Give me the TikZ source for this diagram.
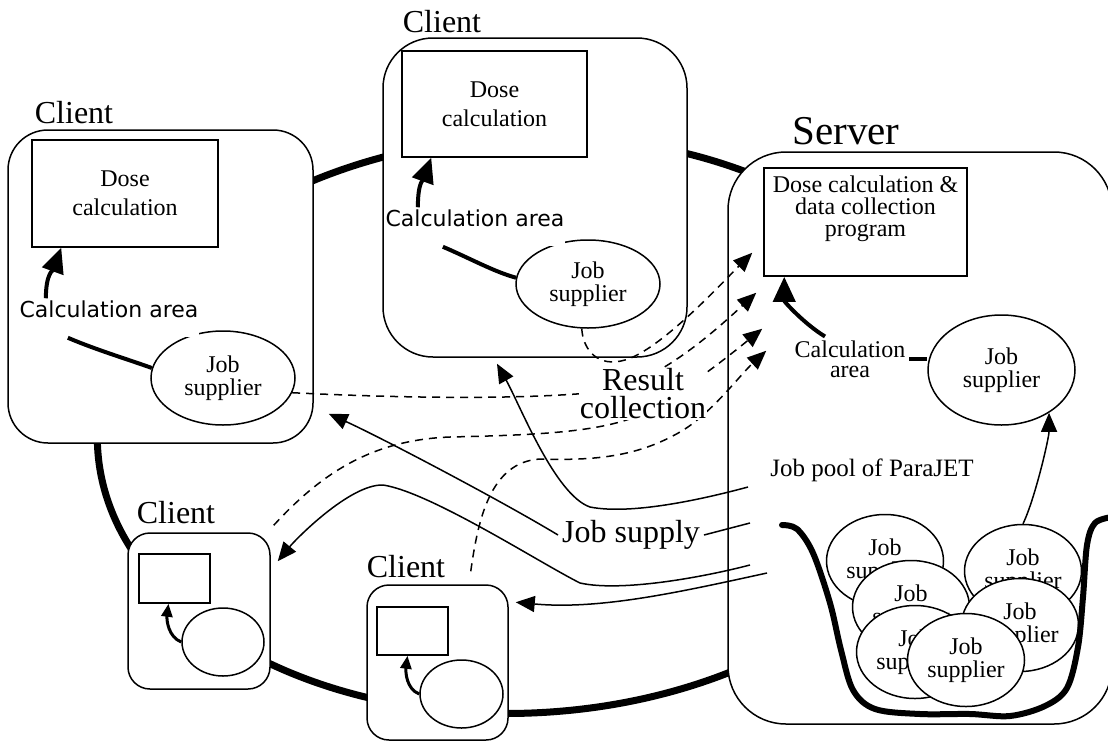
\documentclass[tikz,border=0pt]{standalone}
\usepackage{fontspec}
\setmainfont{Liberation Serif}
\newfontfamily\areafont{DejaVu Sans}
\usetikzlibrary{positioning, arrows.meta, shapes.geometric}

\newcommand\medtxt{\fontsize{24}{23}\selectfont}
\newcommand\dosetxt{\fontsize{24}{29}\selectfont}
\newcommand\bigtxt{\fontsize{32}{28}\selectfont}
\newcommand\hugetxt{\fontsize{41}{41}\selectfont}
\newcommand\pooltxt{\fontsize{25}{25}\selectfont}
\newcommand\areatxt{\areafont\fontsize{22}{22}\selectfont}

\begin{document}
\begin{tikzpicture}[x=1pt, y=-1pt, line width=1.5pt,
    >={Triangle[length=19pt, width=16pt]},
    client/.style={draw, fill=white, rounded corners=#1, inner sep=0pt},
    box/.style={draw, fill=white, inner sep=0pt},
    dosebox/.style={box, align=center, font=\dosetxt},
    jobsup/.style={box, ellipse, align=center, font=\medtxt},
    biglbl/.style={font=\bigtxt},
    calcarea/.style={fill=white, font=\areatxt, inner xsep=1pt, inner ysep=2pt,
                     text height=16pt, text depth=18pt},
    feed/.style={line width=4pt, -{Triangle[length=25pt, width=22pt]}},
    tinyfeed/.style={line width=3pt, -{Triangle[length=13pt, width=11pt]}},
    link/.style={line width=4pt},
    supply/.style={->},
    collect/.style={->, dash pattern=on 8pt off 6pt},
    ring/.style={line width=7pt}]
    \clip (0,0) rectangle (1108,742);

    % Ring joining all machines
    \draw[ring, rotate around={3:(525,425)}] (525,425) ellipse [x radius=428, y radius=288];

    % Machines
    \node[client=40pt, minimum width=305, minimum height=313] (c1) at (160.5,286.5) {};
    \node[client=50pt, minimum width=304, minimum height=319] (c2) at (535,197.5) {};
    \node[client=22pt, minimum width=142, minimum height=156] (c3) at (199,611) {};
    \node[client=22pt, minimum width=141, minimum height=155] (c4) at (437.5,662.5) {};
    \node[client=58pt, minimum width=384, minimum height=572] (srv) at (920,438) {};

    \node[biglbl] (c1lbl) at (74,113) {Client};
    \node[biglbl] (c2lbl) at (442,22) {Client};
    \node[biglbl] (c3lbl) at (176,513) {Client};
    \node[biglbl] (c4lbl) at (406,567) {Client};
    \node[font=\hugetxt] (srvlbl) at (846,131) {Server};

    % Left client
    \node[dosebox, minimum width=186, minimum height=107] (d1) at (125,193.5) {Dose\\calculation};
    \node[jobsup, minimum width=144, minimum height=94] (j1) at (223,378) {Job\\supplier};
    \node[calcarea, anchor=base] (ca1) at (109,317) {Calculation area};
    \draw[feed] ([xshift=28pt]ca1.north west) .. controls +(0,-25) and +(-8,22) .. ([xshift=30pt]d1.south west);
    \draw[link] ([xshift=50pt]ca1.south west) .. controls +(28,12) and +(-22,-8) .. (j1.172);

    % Top client
    \node[dosebox, minimum width=185, minimum height=106] (d2) at (494.5,104) {Dose\\calculation};
    \node[jobsup, minimum width=144, minimum height=88] (j2) at (588,284) {Job\\supplier};
    \node[calcarea, anchor=base] (ca2) at (475,226) {Calculation area};
    \draw[feed] ([xshift=34pt]ca2.north west) .. controls +(0,-25) and +(-8,22) .. ([xshift=30pt]d2.south west);
    \draw[link] ([xshift=59pt]ca2.south west) .. controls +(28,12) and +(-22,-6) .. (j2.175);

    % Small clients
    \node[box, minimum width=71, minimum height=49] (r3) at (174.5,578.5) {};
    \node[box, ellipse, minimum width=82, minimum height=68] (e3) at (223,642) {};
    \draw[tinyfeed] (e3.west) .. controls +(-13,-5) and +(-2,16) .. ([xshift=-6pt]r3.south);
    \node[box, minimum width=71, minimum height=48] (r4) at (412.5,631) {};
    \node[box, ellipse, minimum width=83, minimum height=68] (e4) at (461.5,694) {};
    \draw[tinyfeed] (e4.west) .. controls +(-13,-5) and +(-2,16) .. ([xshift=-5pt]r4.south);

    % Server
    \node[box, minimum width=203, minimum height=108] (d3) at (865.5,222) {};
    \node[font=\fontsize{24}{22}\selectfont, align=center, below=5pt of d3.north] (d3txt)
        {Dose calculation \&\\data collection\\program};
    \node[jobsup, minimum width=147, minimum height=110] (j3) at (1001.5,370) {Job\\supplier};
    \node[font=\fontsize{24}{20}\selectfont, align=center] (ca3) at (850,359) {Calculation\\area};
    \draw[feed] ([xshift=-25pt]ca3.north) .. controls +(-20,-12) and +(0,25) .. ([xshift=21pt]d3.south west);
    \draw[link] (ca3.east) -- (ca3.east -| j3.west);

    % Job pool
    \node[font=\pooltxt] (pool) at (872,470) {Job pool of ParaJET};
    \foreach \n/\x/\y in {1/885/561, 2/1023/571, 3/911/607, 4/1020/625, 5/915/652, 6/966/660}
        \node[jobsup, minimum width=117, minimum height=93] (p\n) at (\x,\y) {Job\\supplier};
    \draw[line width=6pt, line cap=round] plot[smooth, tension=0.55] coordinates {
        (782,525) (797,529) (813,553) (830,603) (841,650) (853,690) (875,709) (920,714)
        (970,714) (1010,716) (1045,706) (1067,688) (1078,647) (1083,597) (1087,545)
        (1095,523) (1112,517)};
    \draw[supply] (p2.north) .. controls +(12,-25) and +(0,25) .. (j3.-42);

    % Job supply
    \coordinate (js1) at (748,487);
    \coordinate (js2) at (750,523);
    \coordinate (js3) at (750,565);
    \coordinate (js4) at (767,573);
    \node[biglbl] (jsup) at (631,535) {Job supply};
    \draw[supply] (js1) .. controls (700,500) and (630,515) .. (590,507)
        .. controls (555,495) and (520,405) .. ([shift={(-38,6)}]c2.south);
    \draw (js2) -- (jsup.east);
    \draw[supply] (jsup.west) .. controls (500,500) and (380,437) .. ([shift={(15,-30)}]c1.south east);
    \draw[supply] (js3) .. controls (700,578) and (620,592) .. (580,583)
        .. controls (540,563) and (430,492) .. (383,485)
        .. controls (350,484) and (296,539) .. ([shift={(7,29)}]c3.north east);
    \draw[supply] (js4) .. controls (680,592) and (600,610) .. ([shift={(7,18)}]c4.north east);

    % Result collection
    \draw[collect] (j2.-98) .. controls (583,350) and (598,368) .. (625,360)
        .. controls (660,350) and (720,285) .. ([shift={(-11,-24)}]d3.south west);
    \draw[collect] (j1.-12) .. controls (400,398) and (520,400) .. (600,392)
        .. controls (650,385) and (700,345) .. ([shift={(-7,16)}]d3.south west);
    \draw[collect] ([shift={(3,-7)}]c3.north east) .. controls (320,475) and (370,440) .. (450,437)
        .. controls (540,435) and (600,432) .. (640,415)
        .. controls (680,395) and (730,355) .. ([shift={(-1,52)}]d3.south west);
    \draw[collect] ([shift={(-38,-13)}]c4.north east) .. controls (478,520) and (490,462) .. (540,459)
        .. controls (600,461) and (640,455) .. (680,432)
        .. controls (710,415) and (740,375) .. ([shift={(3,74)}]d3.south west);
    \node[biglbl, fill=white, align=center, inner sep=1pt] (res) at (643,394) {Result\\collection};
\end{tikzpicture}
\end{document}
